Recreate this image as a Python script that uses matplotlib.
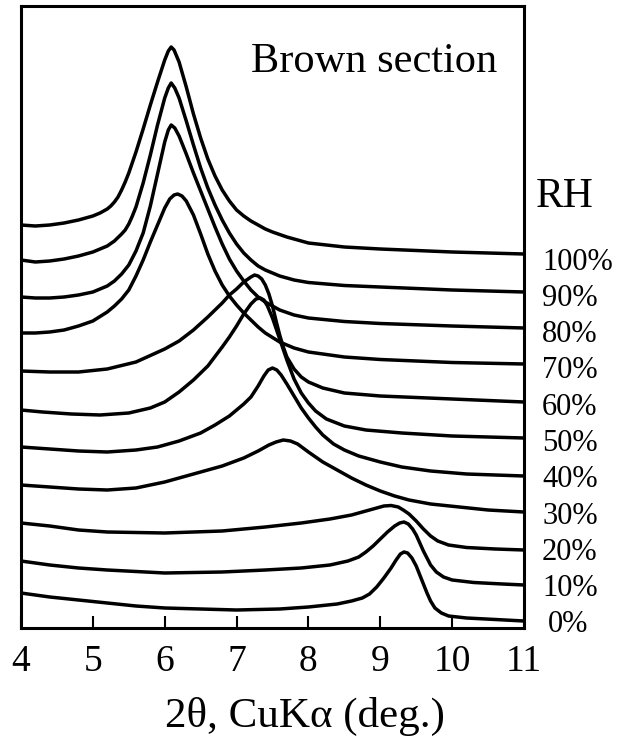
import matplotlib
matplotlib.use("Agg")
import matplotlib.pyplot as plt

plt.rcParams["font.family"] = ["Liberation Serif", "DejaVu Serif"]

# 2-theta positions (deg) and stacked intensities (arb. units) for each RH level
x_100 = [4.0, 4.2, 4.4, 4.6, 4.8, 5.0, 5.1, 5.2, 5.25, 5.3, 5.35, 5.4, 5.45, 5.5, 5.6, 5.7, 5.8, 5.9,
         6.0, 6.05, 6.09, 6.13, 6.2, 6.3, 6.4, 6.5, 6.6, 6.7, 6.8, 6.9, 7.0, 7.1, 7.2, 7.3, 7.4,
         7.5, 7.7, 8.0, 8.5, 9.0, 10.0, 11.0]
y_100 = [403, 402, 403, 405, 408, 412, 415, 419, 422, 426, 431, 438, 446, 455, 476, 499, 523, 546,
         568, 577, 581, 578, 566, 541, 514, 490, 469, 452, 438, 427, 418, 412, 407, 403, 399,
         396, 391, 385, 381, 379, 376, 374]

x_90 = [4.0, 4.2, 4.4, 4.6, 4.8, 5.0, 5.2, 5.3, 5.4, 5.45, 5.5, 5.55, 5.6, 5.7, 5.8, 5.9, 6.0, 6.05,
        6.09, 6.14, 6.2, 6.3, 6.4, 6.5, 6.6, 6.7, 6.8, 6.9, 7.0, 7.1, 7.2, 7.3, 7.4, 7.6, 7.8, 8.0,
        8.5, 9.0, 10.0, 11.0]
y_90 = [368, 366, 367, 369, 372, 376, 382, 387, 394, 398, 404, 412, 421, 445, 473, 503, 530, 540,
        545, 540, 530, 507, 483, 460, 440, 423, 408, 395, 384, 375, 368, 362, 358, 352, 348, 345.5,
        342.5, 341, 338, 336]

x_80 = [4.0, 4.2, 4.4, 4.6, 4.8, 5.0, 5.2, 5.3, 5.4, 5.5, 5.6, 5.7, 5.8, 5.9, 6.0, 6.05, 6.09,
        6.14, 6.2, 6.3, 6.4, 6.5, 6.6, 6.7, 6.8, 6.9, 7.0, 7.1, 7.2, 7.3, 7.4, 7.6, 7.8, 8.0,
        8.5, 9.0, 10.0, 11.0]
y_80 = [331, 330, 330, 331, 333, 336, 342, 347, 354, 363, 377, 395, 422, 454, 486, 498, 503,
        500, 492, 474, 455, 437, 419, 401, 384, 369, 357, 347, 338, 331, 326, 318, 313, 310,
        306.5, 304.5, 302, 300]

x_70 = [4.0, 4.2, 4.4, 4.6, 4.8, 5.0, 5.2, 5.3, 5.4, 5.5, 5.6, 5.7, 5.8, 5.9, 6.0, 6.07, 6.13, 6.18,
        6.24, 6.3, 6.4, 6.5, 6.6, 6.7, 6.8, 6.9, 7.0, 7.1, 7.2, 7.3, 7.4, 7.6, 7.8, 8.0, 8.5,
        9.0, 10.0, 11.0]
y_70 = [295, 295, 296, 298, 302, 307, 316, 322, 329, 338, 352, 368, 386, 403, 420, 429, 433, 434,
        432, 427, 413, 394, 374, 357, 343, 332, 323, 315, 308, 301, 295, 286, 280, 276, 271,
        268.5, 265.5, 264]

x_60 = [4.0, 4.4, 4.8, 5.2, 5.6, 6.0, 6.2, 6.4, 6.6, 6.8, 6.9, 7.0, 7.1, 7.2, 7.25, 7.3, 7.35, 7.4,
        7.45, 7.5, 7.55, 7.6, 7.65, 7.7, 7.8, 7.9, 8.0, 8.2, 8.5, 9.0, 10.0, 11.0]
y_60 = [257, 256, 256, 259, 266, 279, 287, 298, 311, 325, 333, 339, 346, 351, 353, 352, 349, 343,
        334, 322, 307, 293, 281, 271, 259, 251, 246, 240, 235, 232, 229, 226]

x_50 = [4.0, 4.3, 4.7, 5.1, 5.5, 5.8, 6.0, 6.2, 6.4, 6.6, 6.8, 6.9, 7.0, 7.1, 7.2, 7.27, 7.33, 7.38,
        7.43, 7.5, 7.6, 7.7, 7.8, 7.9, 8.0, 8.1, 8.25, 8.5, 8.8, 9.3, 10.0, 11.0]
y_50 = [218, 216, 214, 213, 215, 220, 226, 236, 248, 262, 281, 291, 302, 314, 324, 329, 330, 328,
        322, 310, 289, 268, 249, 235, 225, 217, 209, 202, 198, 195, 192, 190]

x_40 = [4.0, 4.4, 4.8, 5.2, 5.6, 5.9, 6.2, 6.5, 6.7, 6.9, 7.0, 7.1, 7.2, 7.3, 7.38, 7.44, 7.5, 7.56,
        7.62, 7.7, 7.8, 7.9, 8.0, 8.1, 8.2, 8.35, 8.5, 8.7, 9.0, 9.3, 9.7, 10.2, 11.0]
y_40 = [181, 179, 177, 176, 178, 181, 187, 195, 203, 212, 218, 224, 231, 242, 252, 258, 260, 258,
        253, 244, 232, 220, 210, 201, 193, 184, 178, 172, 166, 161, 157, 154, 152]

x_30 = [4.0, 4.4, 4.8, 5.2, 5.6, 6.0, 6.4, 6.8, 7.1, 7.3, 7.45, 7.55, 7.65, 7.75, 7.85, 8.0, 8.2,
        8.4, 8.6, 8.8, 9.0, 9.2, 9.4, 9.7, 10.1, 10.5, 11.0]
y_30 = [143, 141, 139, 138, 140, 146, 154, 162, 170, 177, 183, 186, 188, 187, 184, 176, 166,
        158, 150, 143, 137, 132, 128, 124, 121, 118, 116]

x_20 = [4.0, 4.4, 4.8, 5.2, 6.0, 6.8, 7.4, 7.9, 8.3, 8.6, 8.8, 8.95, 9.05, 9.15, 9.25, 9.32, 9.4,
        9.5, 9.6, 9.7, 9.8, 9.95, 10.2, 10.6, 11.0]
y_20 = [105, 102, 98, 96, 95, 97, 101, 105, 109, 113, 117, 120, 122, 122.5, 121, 118, 114,
        107, 99, 92, 87, 83, 80.5, 79, 78]

x_10 = [4.0, 4.4, 4.8, 5.2, 6.0, 6.8, 7.4, 7.9, 8.3, 8.55, 8.7, 8.8, 8.9, 9.0, 9.1, 9.2, 9.27, 9.33,
        9.39, 9.45, 9.5, 9.55, 9.6, 9.65, 9.7, 9.78, 9.88, 10.0, 10.3, 10.7, 11.0]
y_10 = [67, 63, 60, 58, 55, 56, 58, 60, 63, 67, 71, 76, 82, 89, 96, 102, 105, 106,
        104, 99, 93, 85, 77, 70, 63, 56, 51, 48, 45.5, 44, 43]

x_0 = [4.0, 4.4, 4.8, 5.2, 5.6, 6.0, 7.0, 7.6, 8.0, 8.4, 8.6, 8.75, 8.85, 8.95, 9.05, 9.15, 9.22,
       9.28, 9.33, 9.38, 9.44, 9.5, 9.55, 9.6, 9.65, 9.7, 9.76, 9.85, 9.95, 10.2, 10.6, 11.0]
y_0 = [35, 31, 28, 25, 22, 20, 18, 19, 21, 24, 27, 30, 34, 41, 50, 60, 68,
       74, 76, 75, 70, 62, 53, 44, 35, 27, 20, 15, 12, 10, 8.5, 7]

rh_labels = ["100%", "90%", "80%", "70%", "60%", "50%", "40%", "30%", "20%", "10%", "0%"]
series = [(x_100, y_100), (x_90, y_90), (x_80, y_80), (x_70, y_70), (x_60, y_60),
          (x_50, y_50), (x_40, y_40), (x_30, y_30), (x_20, y_20), (x_10, y_10), (x_0, y_0)]
x_ticks = [4, 5, 6, 7, 8, 9, 10, 11]

W, H = 620, 746
fig = plt.figure(figsize=(W / 100, H / 100), dpi=100)
ax = fig.add_axes([21 / W, 1 - 628 / H, 503 / W, 622 / H])

for xs, ys in series:
    ax.plot(xs, ys, color="black", lw=2.5, solid_joinstyle="round", solid_capstyle="round")

ax.set_xlim(4, 11)
ax.set_ylim(0, 622)
ax.set_yticks([])
ax.set_xticks(x_ticks)
ax.set_xticklabels([str(t) for t in x_ticks], fontsize=27)
ax.tick_params(axis="x", direction="in", length=8.5, width=1.5, pad=12)
for s in ax.spines.values():
    s.set_linewidth(2.2)

fig.text(305 / W, 1 - 716 / H, "2θ, CuKα (deg.)", ha="center", va="center", fontsize=31)

ax.text((497 - 21) / 503, (628 - 72) / 622, "Brown section", transform=ax.transAxes,
        ha="right", va="baseline", fontsize=30.5)
ax.text((536 - 21) / 503, (628 - 207) / 622, "RH", transform=ax.transAxes,
        ha="left", va="baseline", fontsize=30)

# RH labels stacked down the right side, one per trace
label_top = (628 - 262) / 622
label_bot = (628 - 625) / 622
for i, lab in enumerate(rh_labels):
    yy = label_top + (label_bot - label_top) * i / (len(rh_labels) - 1)
    xx = (542 - 21) / 503 if lab != "0%" else (548 - 21) / 503
    ax.text(xx, yy, lab, transform=ax.transAxes, ha="left", va="center", fontsize=22)

fig.savefig("out.png", dpi=100)
